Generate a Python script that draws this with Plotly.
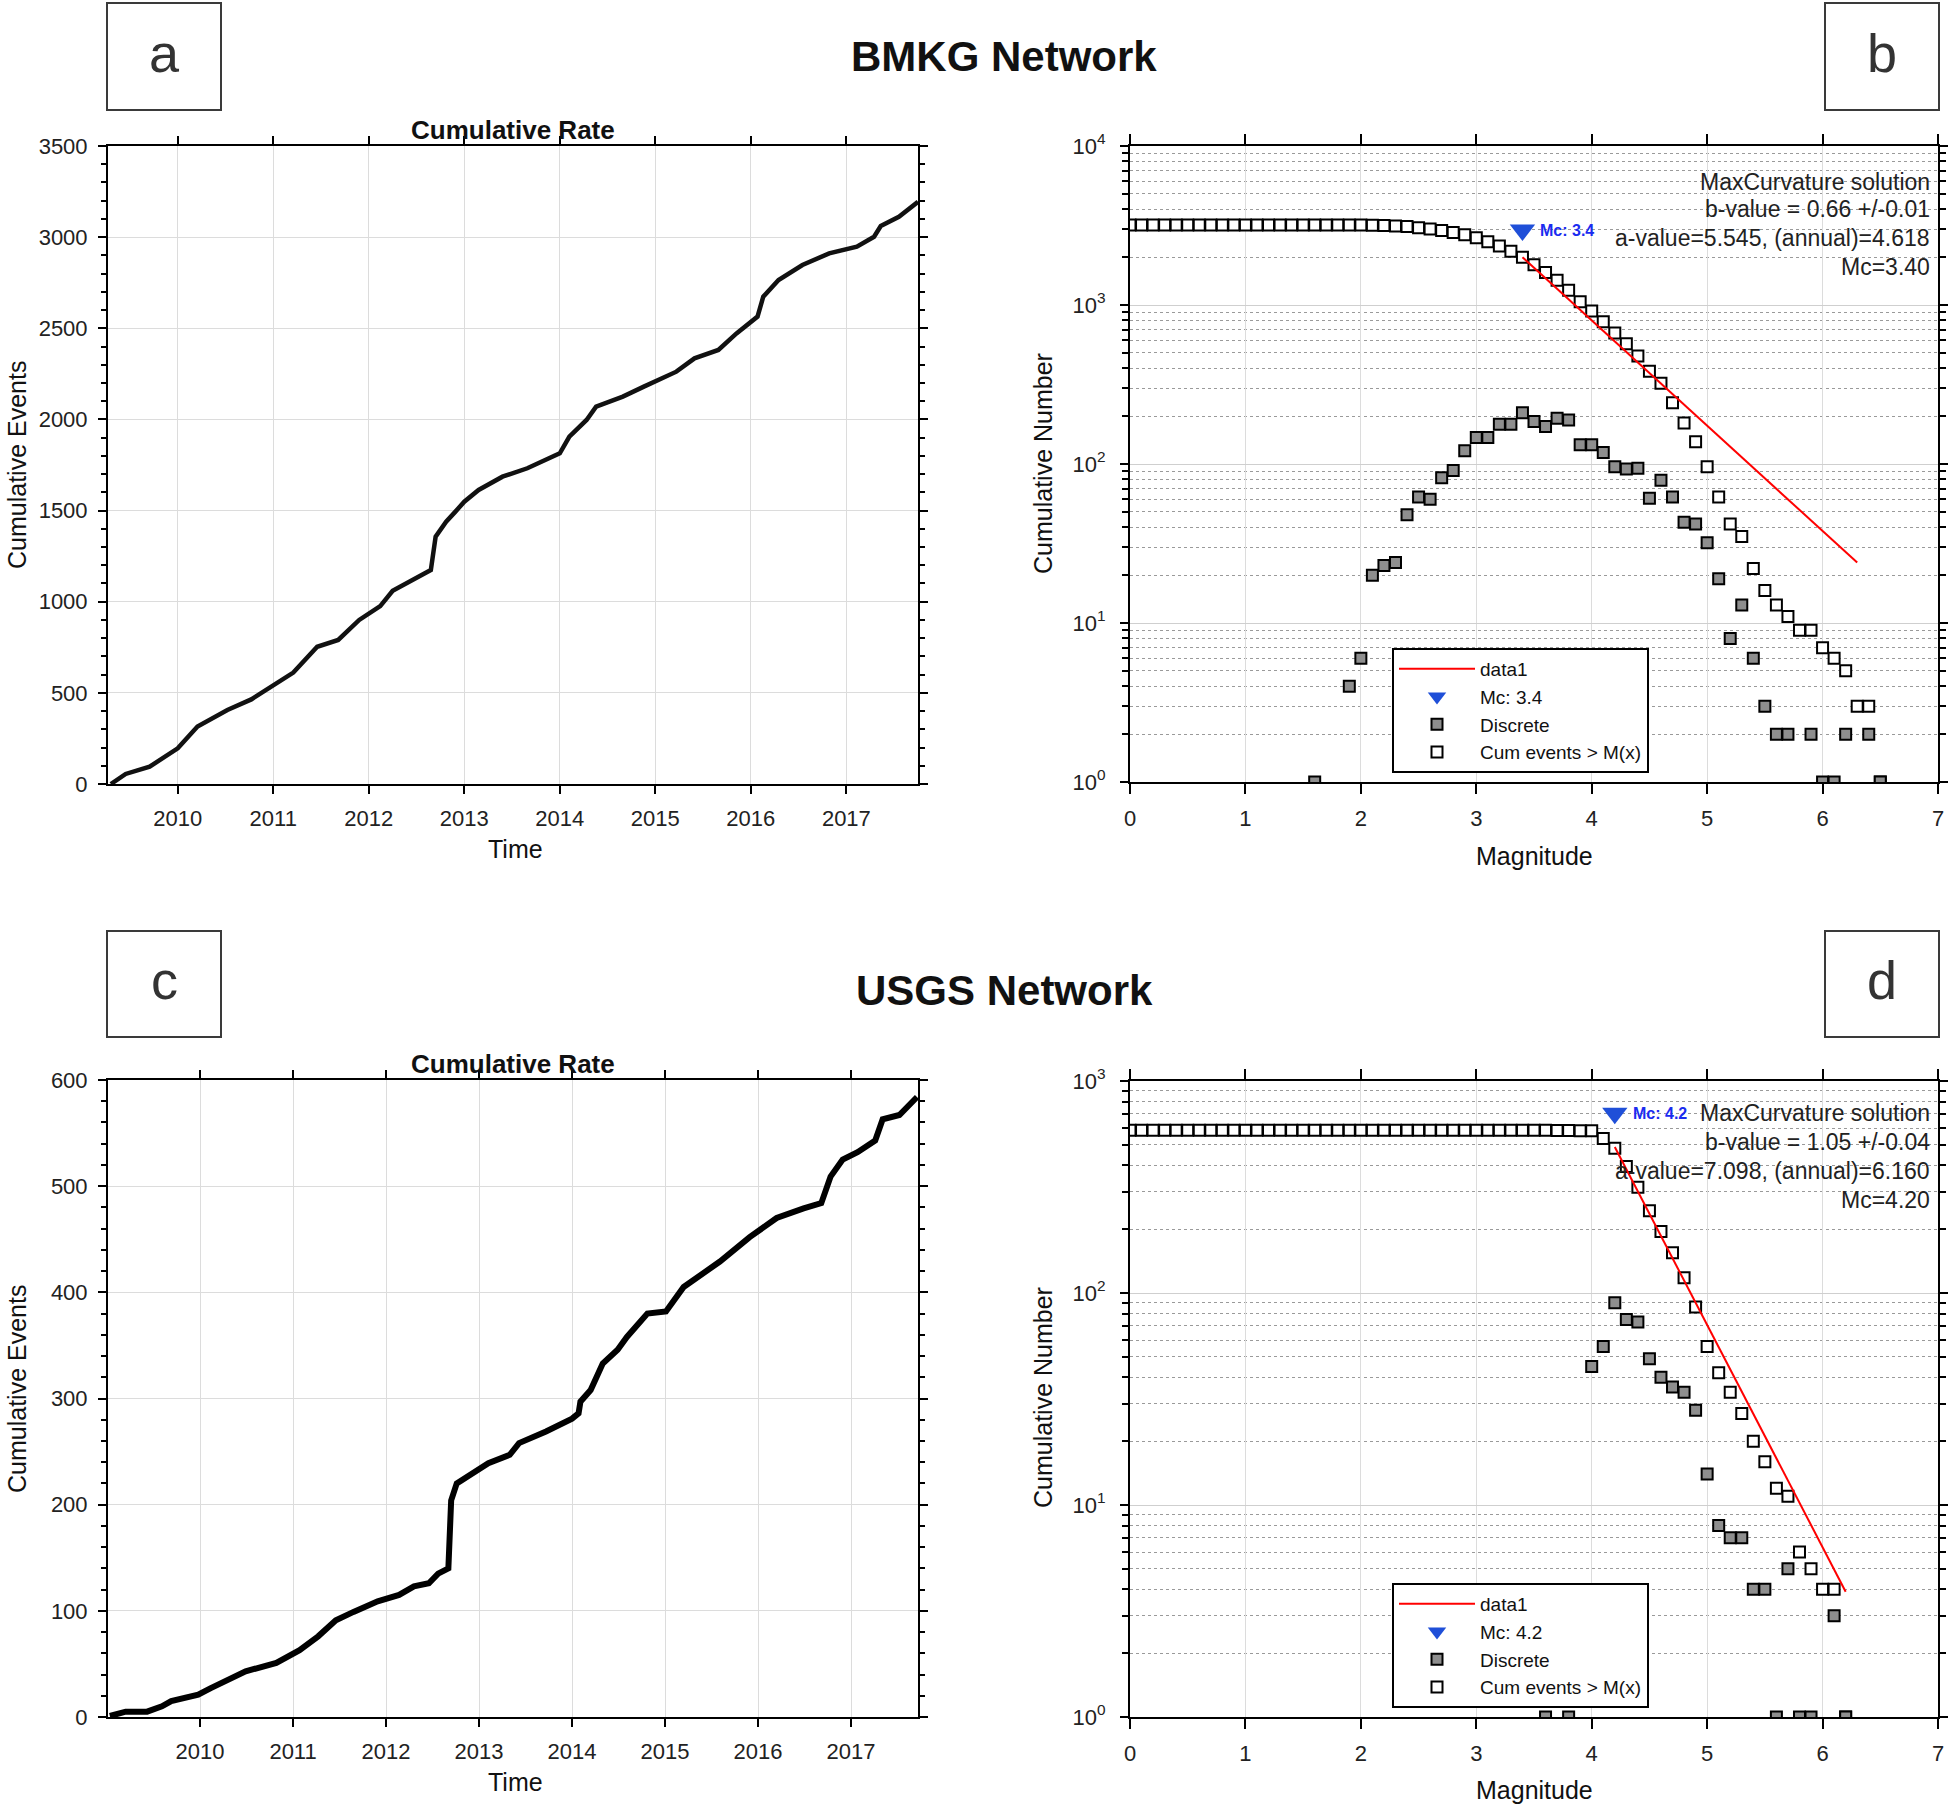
import math
import plotly.graph_objects as go

W, H = 1960, 1808
FONT = "Liberation Sans, Arial, sans-serif"

# ---------------- data ----------------
# (a) BMKG cumulative rate
years_a = [2009.30, 2009.455, 2009.706, 2010.0, 2010.207, 2010.52, 2010.77, 2010.99, 2011.21, 2011.46,
           2011.68, 2011.90, 2012.12, 2012.25, 2012.43, 2012.65, 2012.70, 2012.81, 2012.90, 2013.0,
           2013.15, 2013.40, 2013.66, 2014.0, 2014.10, 2014.28, 2014.38, 2014.66, 2014.88, 2015.22,
           2015.41, 2015.66, 2015.85, 2016.07, 2016.13, 2016.29, 2016.54, 2016.82, 2017.11, 2017.29,
           2017.36, 2017.55, 2017.75]
events_a = [0, 55, 95, 196, 315, 406, 464, 534, 611, 753,
            790, 900, 976, 1060, 1110, 1174, 1357, 1439, 1490, 1549,
            1613, 1686, 1732, 1814, 1905, 1997, 2070, 2125, 2180, 2262,
            2335, 2381, 2472, 2564, 2673, 2765, 2847, 2911, 2948, 3002,
            3061, 3112, 3194]

# (c) USGS cumulative rate
years_c = [2009.03, 2009.20, 2009.43, 2009.59, 2009.69, 2009.98, 2010.11, 2010.30, 2010.49, 2010.82,
           2011.07, 2011.27, 2011.46, 2011.65, 2011.91, 2012.14, 2012.30, 2012.46, 2012.56, 2012.67,
           2012.70, 2012.76, 2012.94, 2013.10, 2013.33, 2013.43, 2013.72, 2014.0, 2014.07, 2014.09,
           2014.20, 2014.33, 2014.49, 2014.59, 2014.81, 2015.01, 2015.20, 2015.59, 2015.91, 2016.20,
           2016.49, 2016.68, 2016.78, 2016.91, 2017.07, 2017.26, 2017.34, 2017.52, 2017.71]
events_c = [1, 5, 5, 10, 15, 21, 27, 35, 43, 51,
            63, 76, 91, 99, 109, 115, 123, 126, 135, 140,
            204, 220, 230, 239, 247, 258, 269, 281, 286, 297,
            308, 333, 346, 358, 380, 382, 405, 429, 452, 470,
            479, 484, 509, 525, 532, 543, 563, 567, 584]

year_ticks = [2010, 2011, 2012, 2013, 2014, 2015, 2016, 2017]

# (b) BMKG frequency-magnitude
mag_cum_b = [0.0, 0.1, 0.2, 0.3, 0.4, 0.5, 0.6, 0.7, 0.8, 0.9, 1.0, 1.1, 1.2, 1.3, 1.4, 1.5, 1.6,
             1.7, 1.8, 1.9, 2.0, 2.1, 2.2, 2.3, 2.4, 2.5, 2.6, 2.7, 2.8, 2.9, 3.0, 3.1, 3.2, 3.3,
             3.4, 3.5, 3.6, 3.7, 3.8, 3.9, 4.0, 4.1, 4.2, 4.3, 4.4, 4.5, 4.6, 4.7, 4.8, 4.9, 5.0,
             5.1, 5.2, 5.3, 5.4, 5.5, 5.6, 5.7, 5.8, 5.9, 6.0, 6.1, 6.2, 6.3, 6.4, 6.5]
cum_b = [3190, 3190, 3190, 3190, 3190, 3190, 3190, 3190, 3190, 3190, 3190, 3190, 3190, 3190, 3190, 3190, 3190,
         3189, 3189, 3189, 3185, 3179, 3159, 3136, 3112, 3064, 3002, 2942, 2860, 2769, 2648, 2501, 2354, 2176,
         1998, 1788, 1603, 1431, 1237, 1048, 916, 784, 666, 570, 477, 383, 322, 243, 181, 138, 96,
         62, 42, 35, 22, 16, 13, 11, 9, 9, 7, 6, 5, 3, 3, 1]
mag_disc_b = [1.6, 1.9, 2.0, 2.1, 2.2, 2.3, 2.4, 2.5, 2.6, 2.7, 2.8, 2.9, 3.0, 3.1, 3.2, 3.3, 3.4, 3.5,
              3.6, 3.7, 3.8, 3.9, 4.0, 4.1, 4.2, 4.3, 4.4, 4.5, 4.6, 4.7, 4.8, 4.9, 5.0, 5.1, 5.2, 5.3,
              5.4, 5.5, 5.6, 5.7, 5.9, 6.0, 6.1, 6.2, 6.4, 6.5]
disc_b = [1, 4, 6, 20, 23, 24, 48, 62, 60, 82, 91, 121, 147, 147, 178, 178, 210, 185,
          172, 194, 189, 132, 132, 118, 96, 93, 94, 61, 79, 62, 43, 42, 32, 19, 8, 13,
          6, 3, 2, 2, 2, 1, 1, 2, 2, 1]
fit_mag_b = [3.4, 6.3]
fit_n_b = [2000, 24]
mc_b, mc_n_b = 3.4, 2960
text_b = ["MaxCurvature solution", "b-value = 0.66 +/-0.01",
          "a-value=5.545, (annual)=4.618", "Mc=3.40"]

# (d) USGS frequency-magnitude
mag_cum_d = [0.0, 0.1, 0.2, 0.3, 0.4, 0.5, 0.6, 0.7, 0.8, 0.9, 1.0, 1.1, 1.2, 1.3, 1.4, 1.5, 1.6,
             1.7, 1.8, 1.9, 2.0, 2.1, 2.2, 2.3, 2.4, 2.5, 2.6, 2.7, 2.8, 2.9, 3.0, 3.1, 3.2, 3.3,
             3.4, 3.5, 3.6, 3.7, 3.8, 3.9, 4.0, 4.1, 4.2, 4.3, 4.4, 4.5, 4.6, 4.7, 4.8, 4.9, 5.0,
             5.1, 5.2, 5.3, 5.4, 5.5, 5.6, 5.7, 5.8, 5.9, 6.0, 6.1, 6.2]
cum_d = [585, 585, 585, 585, 585, 585, 585, 585, 585, 585, 585, 585, 585, 585, 585, 585, 585,
         585, 585, 585, 585, 585, 585, 585, 585, 585, 585, 585, 585, 585, 585, 585, 585, 585,
         585, 585, 585, 584, 584, 583, 583, 536, 482, 395, 315, 244, 195, 155, 118, 86, 56,
         42, 34, 27, 20, 16, 12, 11, 6, 5, 4, 4, 1]
mag_disc_d = [3.6, 3.8, 4.0, 4.1, 4.2, 4.3, 4.4, 4.5, 4.6, 4.7, 4.8, 4.9, 5.0, 5.1, 5.2, 5.3,
              5.4, 5.5, 5.6, 5.7, 5.8, 5.9, 6.1, 6.2]
disc_d = [1, 1, 45, 56, 90, 75, 73, 49, 40, 36, 34, 28, 14, 8, 7, 7,
          4, 4, 1, 5, 1, 1, 3, 1]
fit_mag_d = [4.2, 6.2]
fit_n_d = [488, 3.9]
mc_d, mc_n_d = 4.2, 704
text_d = ["MaxCurvature solution", "b-value = 1.05 +/-0.04",
          "a-value=7.098, (annual)=6.160", "Mc=4.20"]

log_major_b = [1, 10, 100, 1000, 10000]
log_major_d = [1, 10, 100, 1000]
log_text = ["10<sup>0</sup>", "10<sup>1</sup>", "10<sup>2</sup>", "10<sup>3</sup>", "10<sup>4</sup>"]
log_minor = [m * 10 ** e for e in range(4) for m in range(2, 10)]

# ---------------- styling helpers ----------------
def px(x):
    return x / W

def py(y):
    return 1 - y / H

GRID = "#dcdcdc"
TICKFONT = dict(family=FONT, size=22, color="#222222")


def base_axis(**kw):
    d = dict(showline=True, linecolor="black", linewidth=2, mirror="allticks",
             ticks="outside", ticklen=8, tickwidth=1.5, tickcolor="black",
             showgrid=True, gridcolor=GRID, gridwidth=1, zeroline=False,
             tickfont=TICKFONT, ticklabelstandoff=6, automargin=False)
    d.update(kw)
    return d


fig = go.Figure()

DISC_COLOR = "#8e8e8e"
MC_COLOR = "#1f4fd8"

# ---------------- panel a ----------------
fig.add_trace(go.Scatter(x=years_a, y=events_a, mode="lines", xaxis="x", yaxis="y",
                         line=dict(color="#111111", width=4.5), showlegend=False))
# ---------------- panel c ----------------
fig.add_trace(go.Scatter(x=years_c, y=events_c, mode="lines", xaxis="x3", yaxis="y3",
                         line=dict(color="#000000", width=6), showlegend=False))


def fmd_traces(xa, ya, leg, mag_cum, cum, mag_disc, disc, fit_m, fit_n, mc, mc_n):
    fig.add_trace(go.Scatter(x=mag_cum, y=cum, mode="markers", xaxis=xa, yaxis=ya,
                             name="Cum events > M(x)", legend=leg, legendrank=4,
                             marker=dict(symbol="square", size=11, color="white",
                                         line=dict(color="black", width=2))))
    fig.add_trace(go.Scatter(x=mag_disc, y=disc, mode="markers", xaxis=xa, yaxis=ya,
                             name="Discrete", legend=leg, legendrank=3,
                             marker=dict(symbol="square", size=11, color=DISC_COLOR,
                                         line=dict(color="black", width=2))))
    fig.add_trace(go.Scatter(x=fit_m, y=fit_n, mode="lines", xaxis=xa, yaxis=ya,
                             name="data1", legend=leg, legendrank=1,
                             line=dict(color="#ff0000", width=2)))
    fig.add_trace(go.Scatter(x=[mc], y=[mc_n], mode="markers", xaxis=xa, yaxis=ya,
                             name="Mc: %.1f" % mc, legend=leg, legendrank=2,
                             marker=dict(symbol="triangle-down", size=22, color=MC_COLOR,
                                         line=dict(width=0))))


fmd_traces("x2", "y2", "legend", mag_cum_b, cum_b, mag_disc_b, disc_b, fit_mag_b, fit_n_b, mc_b, mc_n_b)
fmd_traces("x4", "y4", "legend2", mag_cum_d, cum_d, mag_disc_d, disc_d, fit_mag_d, fit_n_d, mc_d, mc_n_d)

# ---------------- axes ----------------
dom_x_left = [px(108), px(918)]
dom_x_right = [px(1130), px(1938)]

layout_axes = dict(
    xaxis=base_axis(domain=dom_x_left, anchor="y", range=[2009.27, 2017.75],
                    tickvals=year_ticks, ticktext=[str(v) for v in year_ticks]),
    yaxis=base_axis(domain=[py(784), py(146)], anchor="x", range=[0, 3500], dtick=500,
                    minor=dict(dtick=100, ticks="outside", ticklen=5, tickcolor="black", showgrid=False)),
    xaxis3=base_axis(domain=dom_x_left, anchor="y3", range=[2009.01, 2017.72],
                     tickvals=year_ticks, ticktext=[str(v) for v in year_ticks]),
    yaxis3=base_axis(domain=[py(1717), py(1080)], anchor="x3", range=[0, 600], dtick=100,
                     minor=dict(dtick=20, ticks="outside", ticklen=5, tickcolor="black", showgrid=False)),
    xaxis2=base_axis(domain=dom_x_right, anchor="y2", range=[0, 7], dtick=1, tick0=0,
                     ticklen=10),
    yaxis2=base_axis(domain=[py(782), py(146)], anchor="x2", type="log", range=[0, 4],
                     tickmode="array", tickvals=log_major_b, ticktext=log_text[:5],
                     ticklabelstandoff=10, gridcolor="#cfcfcf",
                     minor=dict(tickmode="array", tickvals=log_minor, ticks="outside", ticklen=6,
                                tickcolor="black", tickwidth=2, showgrid=True, griddash="dot",
                                gridcolor="#9a9a9a", gridwidth=1)),
    xaxis4=base_axis(domain=dom_x_right, anchor="y4", range=[0, 7], dtick=1, tick0=0,
                     ticklen=10),
    yaxis4=base_axis(domain=[py(1717), py(1081)], anchor="x4", type="log", range=[0, 3],
                     tickmode="array", tickvals=log_major_d, ticktext=log_text[:4],
                     ticklabelstandoff=10, gridcolor="#cfcfcf",
                     minor=dict(tickmode="array", tickvals=log_minor[:24], ticks="outside", ticklen=6,
                                tickcolor="black", tickwidth=2, showgrid=True, griddash="dot",
                                gridcolor="#9a9a9a", gridwidth=1)),
)

legend_style = dict(xanchor="left", yanchor="top", bgcolor="white", bordercolor="black",
                    borderwidth=2, font=dict(family=FONT, size=19, color="#111111"),
                    itemwidth=76, traceorder="normal", tracegroupgap=0)

fig.update_layout(
    width=W, height=H, margin=dict(l=0, r=0, t=0, b=0, pad=0, autoexpand=False),
    paper_bgcolor="white", plot_bgcolor="white",
    font=dict(family=FONT, color="#111111"),
    legend=dict(x=px(1392), y=py(648), **legend_style),
    legend2=dict(x=px(1392), y=py(1583), **legend_style),
    **layout_axes,
)

# ---------------- annotations ----------------
ann = []
shapes = []


def label_box(letter, x0, y0, x1, y1):
    shapes.append(dict(type="rect", xref="paper", yref="paper", x0=px(x0), x1=px(x1),
                       y0=py(y1), y1=py(y0), line=dict(color="#3a3a3a", width=2),
                       fillcolor="white", layer="above"))
    ann.append(dict(text=letter, xref="paper", yref="paper", x=px((x0 + x1) / 2),
                    y=py((y0 + y1) / 2 - 4), showarrow=False, xanchor="center", yanchor="middle",
                    font=dict(family=FONT, size=54, color="#333333")))


label_box("a", 107, 3, 221, 110)
label_box("b", 1825, 3, 1939, 110)
label_box("c", 107, 931, 221, 1037)
label_box("d", 1825, 931, 1939, 1037)


def txt(text, x, y, size, bold=False, xanchor="center", angle=0, color="#111111"):
    ann.append(dict(text=("<b>%s</b>" % text) if bold else text, xref="paper", yref="paper",
                    x=px(x), y=py(y), showarrow=False, xanchor=xanchor, yanchor="middle",
                    textangle=angle, font=dict(family=FONT, size=size, color=color)))


txt("BMKG Network", 1004, 57, 42, bold=True)
txt("USGS Network", 1004, 990, 42, bold=True)
txt("Cumulative Rate", 513, 130, 26, bold=True)
txt("Cumulative Rate", 513, 1064, 26, bold=True)
txt("Cumulative Events", 17, 465, 25, angle=-90)
txt("Cumulative Events", 17, 1389, 25, angle=-90)
txt("Cumulative Number", 1043, 464, 25, angle=-90)
txt("Cumulative Number", 1043, 1398, 25, angle=-90)
txt("Time", 515, 849, 25)
txt("Time", 515, 1782, 25)
txt("Magnitude", 1534, 856, 25)
txt("Magnitude", 1534, 1790, 25)

for i, line in enumerate(text_b):
    txt(line, 1932, [182, 209, 238, 267][i], 23, xanchor="right", color="#222222")
for i, line in enumerate(text_d):
    txt(line, 1932, [1113, 1142, 1171, 1200][i], 23, xanchor="right", color="#222222")

# Mc labels next to the triangles (data coordinates)
for xa, ya, mc, mc_n in (("x2", "y2", mc_b, mc_n_b), ("x4", "y4", mc_d, mc_n_d)):
    ann.append(dict(text="<b>Mc: %.1f</b>" % mc, xref=xa, yref=ya, x=mc, y=math.log10(mc_n),
                    xshift=16, showarrow=False, xanchor="left", yanchor="middle",
                    font=dict(family=FONT, size=16, color="#1a2cf0")))

fig.update_layout(annotations=ann, shapes=shapes)

fig.write_html("out.html", config={"displayModeBar": False},
               post_script="document.body.style.margin='0px';")
